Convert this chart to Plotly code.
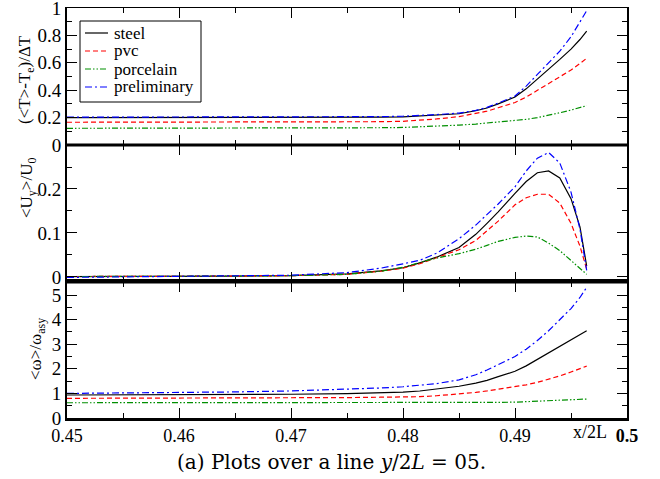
import plotly.graph_objects as go

# ---- data ----
x = [0.45, 0.455, 0.46, 0.465, 0.47, 0.475, 0.478, 0.48, 0.4815, 0.483, 0.485,
     0.4865, 0.4875, 0.4885, 0.49, 0.491, 0.492, 0.493, 0.494, 0.495, 0.4958, 0.4964]

series_names = ["steel", "pvc", "porcelain", "preliminary"]

# top panel: (<T>-Te)/dT
T_steel = [0.2, 0.2, 0.2, 0.2, 0.2, 0.201, 0.203, 0.206, 0.211, 0.218, 0.228,
           0.25, 0.27, 0.30, 0.35, 0.41, 0.48, 0.55, 0.625, 0.70, 0.77, 0.832]
T_pvc = [0.166, 0.166, 0.166, 0.166, 0.166, 0.167, 0.17, 0.173, 0.18, 0.19, 0.207,
         0.228, 0.247, 0.272, 0.31, 0.35, 0.4, 0.45, 0.497, 0.547, 0.595, 0.633]
T_porc = [0.122, 0.122, 0.122, 0.122, 0.122, 0.123, 0.126, 0.128, 0.132, 0.137, 0.145,
          0.153, 0.16, 0.167, 0.177, 0.187, 0.2, 0.215, 0.235, 0.255, 0.272, 0.287]
T_prel = [0.203, 0.203, 0.203, 0.203, 0.203, 0.205, 0.207, 0.21, 0.215, 0.222, 0.233,
          0.253, 0.275, 0.305, 0.358, 0.43, 0.515, 0.6, 0.685, 0.79, 0.9, 0.98]

# middle panel: <Uy>/U0
U_steel = [0.001, 0.001, 0.001, 0.002, 0.003, 0.007, 0.014, 0.021, 0.032, 0.045, 0.067,
           0.097, 0.122, 0.148, 0.19, 0.217, 0.237, 0.241, 0.225, 0.178, 0.114, 0.025]
U_pvc = [0.001, 0.001, 0.001, 0.002, 0.003, 0.006, 0.013, 0.02, 0.03, 0.043, 0.062,
         0.083, 0.104, 0.127, 0.164, 0.18, 0.188, 0.188, 0.168, 0.122, 0.07, 0.018]
U_porc = [0.001, 0.001, 0.001, 0.002, 0.003, 0.006, 0.013, 0.022, 0.033, 0.043, 0.053,
          0.063, 0.072, 0.081, 0.09, 0.093, 0.091, 0.077, 0.06, 0.038, 0.02, 0.006]
U_prel = [-0.001, 0.0, 0.001, 0.002, 0.004, 0.01, 0.02, 0.03, 0.038, 0.054, 0.087,
          0.118, 0.141, 0.166, 0.205, 0.241, 0.27, 0.283, 0.259, 0.193, 0.109, 0.015]

# bottom panel: <omega>/omega_asy
W_steel = [0.935, 0.937, 0.94, 0.95, 0.965, 0.99, 1.02, 1.05, 1.097, 1.17, 1.29,
           1.42, 1.53, 1.68, 1.9, 2.12, 2.38, 2.66, 2.92, 3.17, 3.38, 3.55]
W_pvc = [0.8, 0.8, 0.805, 0.81, 0.815, 0.83, 0.845, 0.855, 0.866, 0.905, 0.97,
         1.04, 1.1, 1.17, 1.27, 1.35, 1.45, 1.57, 1.71, 1.87, 2.01, 2.11]
W_porc = [0.62, 0.62, 0.62, 0.618, 0.615, 0.612, 0.61, 0.61, 0.61, 0.61, 0.615,
          0.622, 0.628, 0.635, 0.645, 0.66, 0.675, 0.69, 0.71, 0.73, 0.755, 0.77]
W_prel = [1.0, 1.01, 1.03, 1.06, 1.1, 1.16, 1.22, 1.27, 1.32, 1.4, 1.55,
          1.76, 1.95, 2.17, 2.5, 2.8, 3.15, 3.55, 3.98, 4.45, 4.9, 5.31]

x_tickvals = [0.45, 0.46, 0.47, 0.48, 0.49, 0.5]
x_ticktext = ["0.45", "0.46", "0.47", "0.48", "0.49", "<b>0.5</b>"]
T_ticks = [0, 0.2, 0.4, 0.6, 0.8, 1]
T_ticktext = ["0", "0.2", "0.4", "0.6", "0.8", "1"]
U_ticks = [0, 0.1, 0.2]
W_ticks = [0, 1, 2, 3, 4, 5]

# ---- styles ----
colors = {"steel": "black", "pvc": "#ff0000", "porcelain": "#008f00", "preliminary": "#0000ff"}
dashes = {"steel": "solid", "pvc": "5px,3px", "porcelain": "6px,2px,1.5px,2px,1.5px,2px",
          "preliminary": "7px,3px,2px,3px"}

FONT = "Liberation Serif"

panel_data = {
    "T": [T_steel, T_pvc, T_porc, T_prel],
    "U": [U_steel, U_pvc, U_porc, U_prel],
    "W": [W_steel, W_pvc, W_porc, W_prel],
}
axes_for = {"W": ("x", "y"), "U": ("x2", "y2"), "T": ("x3", "y3")}

fig = go.Figure()
for panel in ["T", "U", "W"]:
    xa, ya = axes_for[panel]
    for name, vals in zip(series_names, panel_data[panel]):
        fig.add_trace(go.Scatter(
            x=x, y=vals, mode="lines", name=name, xaxis=xa, yaxis=ya,
            line=dict(color=colors[name], width=1.2, dash=dashes[name]),
            showlegend=False,
        ))

# layout geometry (pixels of the 660x479 page)
L, R, TOP, BOT = 67, 627, 8, 418
W_PLOT = float(R - L)
H_PLOT = float(BOT - TOP)
d_bot = 136 / H_PLOT
d_mid = (136 + 137) / H_PLOT


def px(xp):
    return (xp - L) / W_PLOT


def py(yp):
    return (BOT - yp) / H_PLOT


tickfont = dict(family=FONT, size=18, color="black")
common_x = dict(range=[0.45, 0.5], tickvals=x_tickvals, ticks="inside", ticklen=10,
                tickwidth=1, tickcolor="black", showline=True, linecolor="black",
                mirror="ticks", showgrid=False, zeroline=False, ticklabeloverflow="allow",
                automargin=False,
                minor=dict(ticks="inside", ticklen=5, dtick=0.005, tick0=0.45,
                           tickcolor="black", tickwidth=1, showgrid=False))
common_y = dict(ticks="inside", ticklen=10, tickwidth=1, tickcolor="black",
                showline=True, linecolor="black", linewidth=2, mirror="ticks",
                showgrid=False, zeroline=False, ticklabeloverflow="allow", automargin=False,
                tickfont=dict(family=FONT, size=19, color="black"))

# manual legend (box + sample lines + labels)
leg_rows = [33, 51, 69, 87]
shapes = [
    dict(type="line", xref="paper", yref="paper", x0=0, x1=1, y0=d_bot, y1=d_bot,
         line=dict(color="black", width=3)),
    dict(type="line", xref="paper", yref="paper", x0=0, x1=1, y0=d_mid, y1=d_mid,
         line=dict(color="black", width=3)),
    dict(type="rect", xref="paper", yref="paper", x0=px(80), x1=px(201), y0=py(102), y1=py(21),
         line=dict(color="black", width=1), fillcolor="white", layer="above"),
]
annotations = []
for name, row in zip(series_names, leg_rows):
    shapes.append(dict(type="line", xref="paper", yref="paper", x0=px(85), x1=px(108),
                       y0=py(row), y1=py(row), layer="above",
                       line=dict(color=colors[name], width=1.2, dash=dashes[name])))
    annotations.append(dict(text=name, xref="paper", yref="paper", x=px(112), y=py(row),
                            xanchor="left", yanchor="middle", showarrow=False,
                            font=dict(family=FONT, size=17, color="black")))

annotations += [
    dict(text="(&lt;T&gt;-T<sub>e</sub>)/ΔT", xref="paper", yref="paper",
         x=px(26), y=py(80), textangle=-90, showarrow=False,
         xanchor="center", yanchor="middle", font=dict(family=FONT, size=17)),
    dict(text="&lt;U<sub>y</sub>&gt;/U<sub>0</sub>", xref="paper", yref="paper",
         x=px(28), y=py(188), textangle=-90, showarrow=False,
         xanchor="center", yanchor="middle", font=dict(family=FONT, size=17)),
    dict(text="&lt;ω&gt;/ω<sub>asy</sub>", xref="paper", yref="paper",
         x=px(37), y=py(349), textangle=-90, showarrow=False,
         xanchor="center", yanchor="middle", font=dict(family=FONT, size=17)),
    dict(text="x/2L", xref="paper", yref="paper", x=px(590), y=py(432),
         showarrow=False, xanchor="center", yanchor="middle",
         font=dict(family=FONT, size=18)),
    dict(text="(a) Plots over a line <i>y</i>/2<i>L</i> = 05.", xref="paper", yref="paper",
         x=px(331), y=py(462), showarrow=False, xanchor="center", yanchor="middle",
         font=dict(family="DejaVu Serif", size=20)),
]

fig.update_layout(
    width=660, height=479,
    margin=dict(l=L, r=660 - R, t=TOP, b=479 - BOT, autoexpand=False),
    paper_bgcolor="white", plot_bgcolor="white",
    font=dict(family=FONT, color="black"),
    showlegend=False,
    xaxis=dict(**common_x, anchor="y", ticktext=x_ticktext, tickfont=tickfont, linewidth=2.5),
    xaxis2=dict(**common_x, anchor="y2", matches="x", showticklabels=False, linewidth=1),
    xaxis3=dict(**common_x, anchor="y3", matches="x", showticklabels=False, linewidth=1),
    yaxis=dict(**common_y, domain=[0, d_bot], range=[0, 5.53], tickvals=W_ticks,
               minor=dict(ticks="inside", ticklen=5, dtick=0.5, tickcolor="black")),
    yaxis2=dict(**common_y, domain=[d_bot, d_mid], range=[-0.0114, 0.3], tickvals=U_ticks,
                minor=dict(ticks="inside", ticklen=5, dtick=0.05, tick0=0, tickcolor="black")),
    yaxis3=dict(**common_y, domain=[d_mid, 1], range=[0, 1.0], tickvals=T_ticks,
                ticktext=T_ticktext,
                minor=dict(ticks="inside", ticklen=5, dtick=0.1, tick0=0, tickcolor="black")),
    shapes=shapes,
    annotations=annotations,
)

fig.write_html("out.html")
